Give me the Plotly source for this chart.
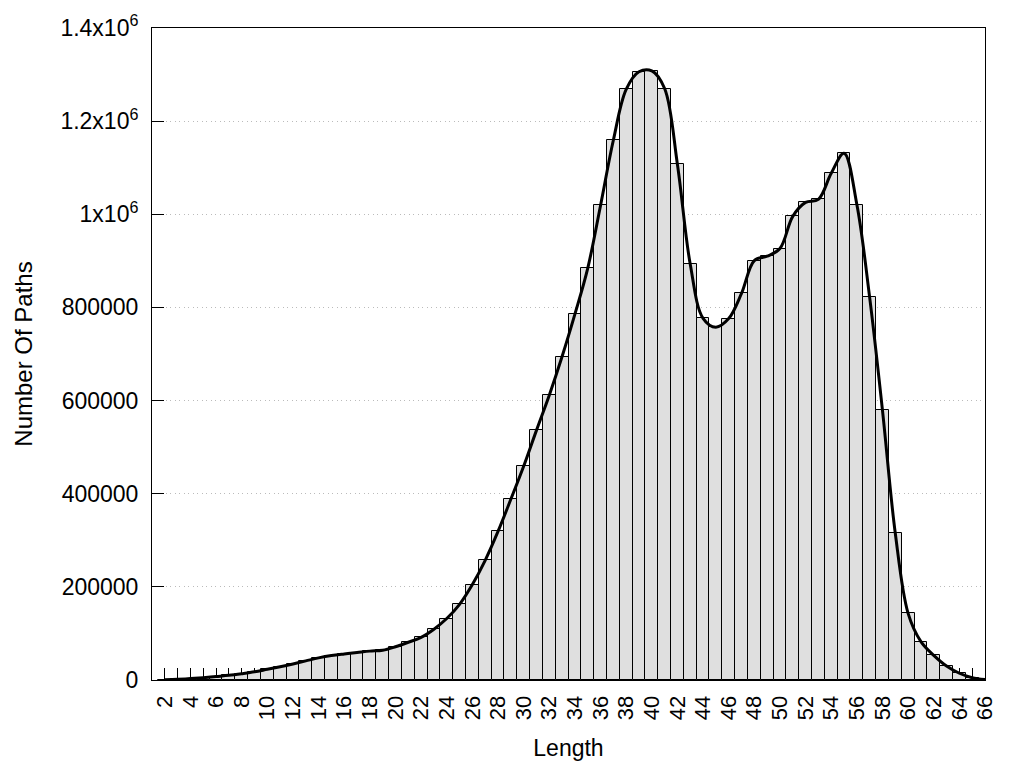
import plotly.graph_objects as go

lengths = list(range(2, 67))
counts = [
    500, 1500, 3000, 5000, 7500, 10000, 13500, 17500, 23000, 28500,      # 2-11
    34500, 41000, 47500, 52500, 56000, 59000, 62000, 64000, 71500, 81000,  # 12-21
    91500, 109000, 132000, 162500, 205000, 257000, 319000, 388000, 459000, 536000,  # 22-31
    611500, 694500, 785500, 884000, 1019000, 1159000, 1268000, 1306000, 1308000, 1270000,  # 32-41
    1107000, 892500, 776500, 757500, 776000, 830000, 900500, 910000, 926500, 995500,  # 42-51
    1025500, 1032000, 1088000, 1131000, 1021000, 821500, 579000, 315000, 143000, 82500,  # 52-61
    53000, 30000, 14500, 5000, 1000,  # 62-66
]

x_tickvals = list(range(2, 67, 2))
x_ticktext = [str(v) for v in x_tickvals]
y_tickvals = [0, 200000, 400000, 600000, 800000, 1000000, 1200000, 1400000]
y_ticktext = ["0", "200000", "400000", "600000", "800000",
              "1x10<sup>6</sup>", "1.2x10<sup>6</sup>", "1.4x10<sup>6</sup>"]

FONT = "Liberation Sans, Arial, sans-serif"

fig = go.Figure()
fig.add_trace(go.Bar(
    x=lengths, y=counts, width=1.0,
    marker=dict(color="#dfdfdf", line=dict(color="black", width=1)),
    showlegend=False,
))
fig.add_trace(go.Scatter(
    x=lengths, y=counts, mode="lines",
    line=dict(color="black", width=3, shape="spline", smoothing=1.0),
    showlegend=False,
))

fig.update_layout(
    width=1024, height=768,
    margin=dict(l=144, r=47, t=20, b=96, autoexpand=False),
    paper_bgcolor="white", plot_bgcolor="white",
    font=dict(family=FONT, size=23, color="black"),
    bargap=0,
)
fig.update_xaxes(
    automargin=False,
    range=[1, 66],
    tickmode="array", tickvals=x_tickvals, ticktext=x_ticktext,
    tickangle=-90,
    ticks="inside", ticklen=12, tickcolor="black", tickwidth=1,
    minor=dict(dtick=1, tick0=1, ticks="inside", ticklen=12, tickcolor="black", showgrid=False),
    showgrid=False, zeroline=False,
    showline=True, linecolor="black", linewidth=1, mirror=True,
    layer="below traces",
    ticklabelstandoff=6,
    tickfont=dict(size=22),
    title=dict(text="Length", font=dict(size=23), standoff=20),
)
fig.update_yaxes(
    automargin=False,
    range=[0, 1400000],
    tickmode="array", tickvals=y_tickvals, ticktext=y_ticktext,
    ticks="inside", ticklen=12, tickcolor="black", tickwidth=1,
    showgrid=True, gridcolor="#bbbbbb", griddash="1px,3.5px", gridwidth=1,
    zeroline=False,
    showline=True, linecolor="black", linewidth=1, mirror=True,
    layer="below traces",
    ticklabelstandoff=8,
    tickfont=dict(size=23),
    title=dict(text="Number Of Paths", font=dict(size=24), standoff=20),
)

fig.write_html("out.html")
